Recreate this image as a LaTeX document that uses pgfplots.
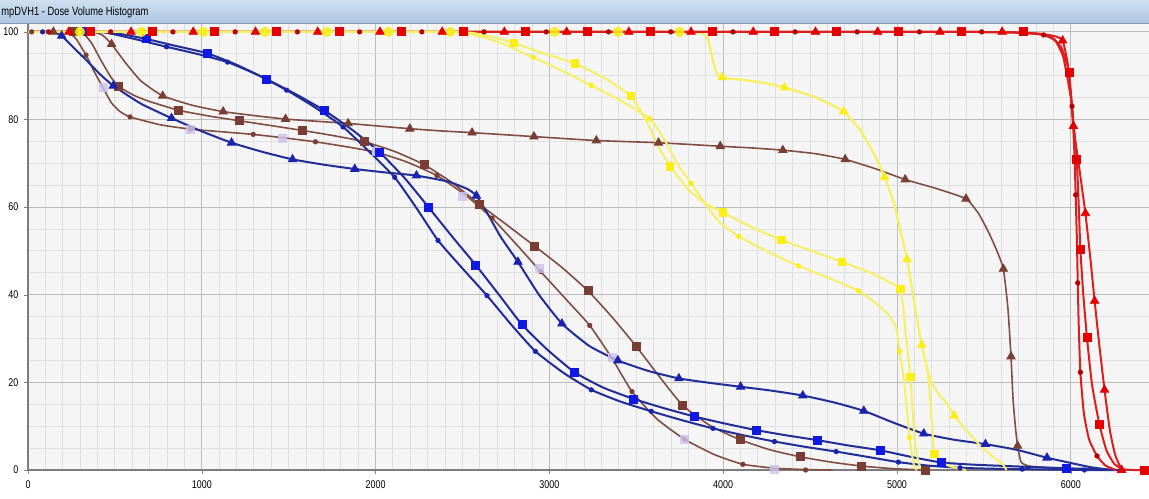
\documentclass[border=0pt]{standalone}
\usepackage{fontspec}
\setmainfont{Liberation Sans}
\usepackage{pgfplots}
\pgfplotsset{compat=1.18}
\definecolor{bgc}{RGB}{245,245,245}
\definecolor{majg}{RGB}{188,188,188}
\definecolor{ming}{RGB}{224,224,224}
\definecolor{rl}{RGB}{220,30,30}
\definecolor{rm}{RGB}{228,0,0}
\definecolor{yl}{RGB}{246,240,100}
\definecolor{ym}{RGB}{250,238,20}
\definecolor{brl}{RGB}{128,78,68}
\definecolor{brm}{RGB}{120,62,52}
\definecolor{ul}{RGB}{35,45,150}
\definecolor{ums}{RGB}{15,25,225}
\definecolor{umt}{RGB}{25,35,175}
\definecolor{lav}{RGB}{205,195,235}
\definecolor{barA}{RGB}{206,222,240}
\definecolor{barB}{RGB}{172,198,226}
\pgfplotsset{
  ln/.style={smooth, tension=0.3, no markers, line width=1pt},
  sq/.style={only marks, mark=square*, mark size=2pt},
  tr/.style={only marks, mark=triangle*, mark size=2.4pt},
  dt/.style={only marks, mark=*, mark size=1.1pt},
}
\begin{document}
\begin{tikzpicture}
\path[use as bounding box] (0,0) rectangle (574.5pt,249pt);
\shade[top color=barA, bottom color=barB] (0,237pt) rectangle (574.5pt,249pt);
\draw[draw={rgb,255:red,130;green,150;blue,175}, line width=0.5pt] (0,237pt) -- (574.5pt,237pt);
\node[anchor=west, inner sep=0pt, xscale=0.78, font=\fontsize{6}{7}\selectfont] at (0.5pt,243pt) {mpDVH1 - Dose Volume Histogram};
\begin{axis}[
  at={(14pt,14pt)}, anchor=south west,
  scale only axis, width=560.5pt, height=223pt,
  xmin=0, xmax=6450, ymin=0, ymax=101.8,
  xtick={0,1000,...,6000}, ytick={0,20,...,100},
  minor x tick num=9, minor y tick num=3,
  grid=both,
  major grid style={draw=majg, line width=0.5pt},
  minor grid style={draw=ming, line width=0.5pt},
  axis background/.style={fill=bgc},
  axis x line*=bottom, axis y line*=left,
  x axis line style={-}, y axis line style={-},
  axis line style={draw={rgb,255:red,125;green,125;blue,125}, line width=0.6pt},
  tick align=outside, major tick length=2pt, minor tick length=0pt,
  tick style={draw=gray},
  tick label style={font=\fontsize{5.6}{6.5}\selectfont, xscale=0.8},
  /pgf/number format/assume math mode=true,
  /pgf/number format/1000 sep={},
  scaled x ticks=false, scaled y ticks=false,
  clip=false,
]
% ---------- brown ----------
\addplot[ln, draw=brl, line width=0.8pt] coordinates {(0,100)(150,100)(230,99.8)(275,98.5)(334,94.7)(380,91)(431,87.3)(480,83.8)(530,81.8)(587,80.6)(760,78.8)(935,77.8)(1115,77.2)(1296,76.6)(1475,75.8)(1654,74.9)(1830,73.8)(2008,72.5)(2180,70.3)(2353,67.2)(2515,62.8)(2670,57.5)(2810,51.5)(2950,45.3)(3090,39.2)(3232,33.0)(3360,25.5)(3475,17.9)(3620,11.6)(3778,7.0)(3950,3.5)(4113,1.3)(4300,0.4)(4474,0.1)(4630,0)};
\addplot[dt, color=brm] coordinates {(21,100)(334,94.7)(587,80.6)(935,77.8)(1296,76.6)(1654,74.9)(2008,72.5)(2353,67.2)(2670,57.5)(2950,45.3)(3232,33.0)(3475,17.9)(3778,7.0)(4113,1.3)(4474,0)};
\addplot[only marks, mark=square*, mark size=2pt, color=lav, opacity=0.8] coordinates {(431,87.3)(932,77.7)(1466,75.8)(2005,72.8)(2501,62.5)(2944,46.0)(3360,25.6)(3778,7.0)(4295,0.2)};
\addplot[ln, draw=brl, line width=0.8pt] coordinates {(0,100)(261,100)(318,99.6)(365,97.5)(420,93.5)(475,89.8)(523,87.5)(610,85.5)(700,84.1)(868,82.1)(1040,80.8)(1219,79.7)(1400,78.6)(1579,77.5)(1760,76.3)(1938,74.9)(2110,72.7)(2279,69.7)(2440,65.6)(2599,60.6)(2760,55.8)(2915,51.1)(3070,46.3)(3222,40.9)(3365,34.7)(3500,28.2)(3635,21.2)(3768,14.7)(3930,10)(4098,6.9)(4270,4.6)(4445,3.0)(4620,1.8)(4796,0.9)(4980,0.3)(5162,0)};
\addplot[sq, color=brm] coordinates {(261,100)(523,87.5)(868,82.1)(1219,79.7)(1579,77.5)(1938,74.9)(2279,69.7)(2599,60.6)(2915,51.1)(3222,40.9)(3500,28.2)(3768,14.7)(4098,6.9)(4445,3.0)(4796,0.9)(5162,0)};
\addplot[ln, draw=brl, line width=0.8pt] coordinates {(0,100)(200,100)(380,99.9)(430,99.2)(481,97.2)(560,93)(650,88.8)(775,85.4)(950,83.2)(1123,81.8)(1300,80.9)(1482,80.1)(1660,79.6)(1842,79.1)(2020,78.5)(2197,77.9)(2375,77.4)(2555,77.0)(2911,76.1)(3270,75.2)(3628,74.7)(3983,73.9)(4170,73.5)(4343,73.0)(4530,72.2)(4702,70.9)(4880,68.7)(5047,66.3)(5230,64.2)(5397,61.9)(5470,58.5)(5530,54)(5575,50)(5612,45.9)(5638,37)(5656,25.9)(5668,16)(5682,9.5)(5694,5.5)(5714,1.8)(5760,0.9)(5880,0.5)(6100,0.1)(6250,0)};
\addplot[tr, color=brm] coordinates {(146,100)(481,97.2)(775,85.4)(1123,81.8)(1482,80.1)(1842,79.1)(2197,77.9)(2555,77.0)(2911,76.1)(3270,75.2)(3628,74.7)(3983,73.9)(4343,73.0)(4702,70.9)(5047,66.3)(5397,61.9)(5612,45.9)(5656,25.9)(5694,5.5)};
% ---------- blue ----------
\addplot[ln, draw=ul] coordinates {(0,100)(200,100)(400,100)(443,99.9)(550,99.4)(679,98.4)(850,96.8)(1033,95.1)(1200,92.5)(1373,89.2)(1540,85.8)(1708,82.0)(1870,77.5)(2024,72.5)(2170,66.5)(2306,59.9)(2440,53.3)(2576,46.8)(2710,40)(2842,33.2)(2990,27.4)(3145,22.3)(3310,18.8)(3486,16.2)(3660,14.1)(3835,12.2)(4010,10.6)(4190,9.1)(4365,7.9)(4544,6.8)(4720,5.6)(4903,4.5)(5080,3)(5257,1.7)(5450,1.2)(5700,0.8)(5972,0.4)(6150,0.2)(6280,0)};
\addplot[sq, color=ums] coordinates {(337,100)(679,98.4)(1033,95.1)(1373,89.2)(1708,82.0)(2024,72.5)(2306,59.9)(2576,46.8)(2842,33.2)(3145,22.3)(3486,16.2)(3835,12.2)(4190,9.1)(4544,6.8)(4903,4.5)(5257,1.7)(5972,0.4)};
\addplot[ln, draw=ul] coordinates {(0,100)(200,100)(400,100)(443,99.9)(600,98.5)(797,96.6)(970,95)(1148,93.1)(1320,90.2)(1488,86.7)(1650,82.8)(1813,78.3)(1960,72.8)(2110,66.8)(2235,59.8)(2359,52.4)(2500,46)(2641,39.8)(2780,33.2)(2919,27.1)(3080,22.2)(3241,18.3)(3410,15.6)(3586,13.4)(3760,11.4)(3941,9.5)(4120,7.9)(4295,6.5)(4470,5.3)(4650,4.2)(4830,3.0)(5008,1.8)(5180,1.0)(5363,0.5)(5540,0.3)(5720,0.2)(5900,0.1)(6078,0)(6280,0)};
\addplot[dt, color=umt] coordinates {(84,100)(797,96.6)(1148,93.1)(1488,86.7)(1813,78.3)(2110,66.8)(2359,52.4)(2641,39.8)(2919,27.1)(3241,18.3)(3586,13.4)(3941,9.5)(4295,6.5)(4650,4.2)(5008,1.8)(5363,0.5)(5720,0.2)(6078,0)};
\addplot[ln, draw=ul] coordinates {(0,100)(100,100)(150,99.9)(194,99.1)(260,96.5)(337,93.5)(410,90.5)(491,87.7)(650,83.6)(826,80.3)(1000,77.3)(1171,74.7)(1350,72.6)(1522,70.9)(1700,69.7)(1880,68.7)(2060,67.9)(2235,67.2)(2420,65.8)(2530,64.1)(2580,62.6)(2640,58.8)(2720,53.2)(2819,47.5)(2940,40)(3072,33.4)(3230,28.3)(3394,25.0)(3570,22.6)(3745,20.9)(3920,19.9)(4100,19.0)(4280,18.1)(4458,17.0)(4640,15.4)(4809,13.5)(4980,10.8)(5154,8.3)(5330,6.9)(5509,5.9)(5690,4.6)(5863,2.8)(6000,1.6)(6120,0.6)(6240,0)};
\addplot[tr, color=umt] coordinates {(194,99.1)(491,87.7)(826,80.3)(1171,74.7)(1522,70.9)(1880,68.7)(2235,67.2)(2580,62.6)(2819,47.5)(3072,33.4)(3394,25.0)(3745,20.9)(4100,19.0)(4458,17.0)(4809,13.5)(5154,8.3)(5509,5.9)(5863,2.8)};
% ---------- yellow (under red) ----------
\addplot[ln, draw=yl] coordinates {(0,100)(1000,100)(2000,100)(3000,100)(3500,100)(3750,100)(3870,99.8)(3910,98.5)(3935,94.5)(3960,90.8)(3994,89.6)(4100,89.1)(4230,88.4)(4353,87.3)(4530,85.1)(4694,81.8)(4790,77.5)(4870,72)(4928,66.9)(4983,60.8)(5020,54.5)(5058,48.1)(5100,38)(5142,28.6)(5176,22.7)(5196,13.2)(5215,3.6)(5244,2.2)(5300,0.9)(5397,0)};
\addplot[ln, draw=yl] coordinates {(0,100)(1000,100)(2000,100)(3000,100)(3500,100)(3750,100)(3870,99.8)(3910,98.5)(3935,94.5)(3960,90.8)(3994,89.6)(4100,89.1)(4230,88.4)(4353,87.3)(4530,85.1)(4694,81.8)(4790,77.5)(4870,72)(4928,66.9)(4983,60.8)(5020,54.5)(5058,48.1)(5100,38)(5142,28.6)(5170,23.5)(5200,20)(5240,17.3)(5282,15.5)(5330,12.4)(5400,9)(5480,5.5)(5560,2.8)(5608,1.3)(5630,0)};
\addplot[tr, color=ym] coordinates {(3994,89.6)(4353,87.3)(4694,81.8)(4928,66.9)(5058,48.1)(5142,28.6)(5330,12.4)};
\addplot[sq, color=ym, mark size=1.8pt] coordinates {(5215,3.6)};
% ---------- red ----------
\addplot[ln, draw=rl] coordinates {(0,100)(1000,100)(2000,100)(3000,100)(4000,100)(5000,100)(5400,100)(5650,99.9)(5800,99.6)(5890,98.8)(5945,96.5)(5975,93)(5990,90.7)(6012,81)(6034,70.9)(6046,60)(6055,50.4)(6072,40)(6093,30.2)(6122,19.5)(6164,10.5)(6205,4.5)(6250,1.4)(6300,0.2)(6360,0)(6423,0)};
\addplot[ln, draw=rl] coordinates {(0,100)(1000,100)(2000,100)(3000,100)(4000,100)(5000,100)(5400,100)(5650,99.9)(5820,99.6)(5910,99)(5953,98)(5985,92)(6015,78.5)(6050,68.5)(6084,58.6)(6112,48.5)(6137,38.6)(6165,28.2)(6194,18.3)(6225,9)(6255,3.5)(6292,0)};
\addplot[ln, draw=rl] coordinates {(0,100)(1000,100)(2000,100)(3000,100)(4000,100)(5000,100)(5400,100)(5650,99.9)(5780,99.6)(5844,99.3)(5910,98)(5955,94.5)(5985,88.5)(6007,83)(6020,73)(6028,62.8)(6035,52.5)(6040,42.7)(6046,32.5)(6055,22.3)(6075,13)(6105,7)(6151,3.2)(6200,1)(6260,0)};
% ---------- yellow (over red) ----------
\addplot[ln, draw=yl] coordinates {(0,100)(1000,100)(2000,100)(2350,100)(2550,99.8)(2680,98.8)(2796,97.4)(2960,95.2)(3145,92.8)(3320,89.4)(3471,85.3)(3560,79.5)(3625,74)(3695,69.3)(3800,64)(3900,60.8)(3998,58.8)(4160,55.5)(4335,52.5)(4510,50)(4684,47.5)(4860,44.8)(4960,42.8)(5000,42)(5020,41.3)(5035,37.5)(5050,31)(5065,26)(5077,21.3)(5090,13.5)(5105,6)(5125,1.5)(5147,0)};
\addplot[ln, draw=yl] coordinates {(0,100)(1000,100)(2000,100)(2350,100)(2500,99.8)(2620,98.8)(2750,97)(2906,94.2)(3080,91)(3241,87.8)(3410,84.3)(3577,80.2)(3660,75.5)(3735,70)(3816,65.4)(3910,60)(3980,56.5)(4090,53.3)(4260,49.8)(4433,46.6)(4610,43.8)(4778,40.9)(4880,38)(4950,35.5)(4995,32.6)(5014,27.1)(5033,22.7)(5052,15.8)(5072,7.4)(5090,2.5)(5101,0.5)(5115,0)};
\addplot[sq, color=ym, mark size=1.8pt] coordinates {(2796,97.4)(3145,92.8)(3471,85.3)(3695,69.3)(3998,58.8)(4335,52.5)(4684,47.5)(5020,41.3)(5077,21.3)};
\addplot[dt, color=ym] coordinates {(2906,94.2)(3241,87.8)(3577,80.2)(3816,65.4)(4090,53.3)(4433,46.6)(4778,40.9)(5014,27.1)(5072,7.4)};
\addplot[only marks, mark=*, mark size=2.3pt, color=ym, opacity=0.85] coordinates {(299,100)(654,100)(1009,100)(1364,100)(1719,100)(2074,100)(2429,100)(3030,100)(3394,100)(3749,100)};
% ---------- red marks ----------
\addplot[sq, color=rm] coordinates {(357,100)(715,100)(1073,100)(1431,100)(1789,100)(2147,100)(2505,100)(2863,100)(3221,100)(3579,100)(3937,100)(4295,100)(4654,100)(5010,100)(5369,100)(5727,100)(5990,90.7)(6034,70.9)(6055,50.4)(6093,30.2)(6164,10.5)(6423,0)};
\addplot[tr, color=rm] coordinates {(235,100)(593,100)(951,100)(1309,100)(1667,100)(2025,100)(2383,100)(2741,100)(3099,100)(3457,100)(3815,100)(4173,100)(4531,100)(4889,100)(5247,100)(5605,100)(5953,98)(6015,78.5)(6084,58.6)(6137,38.6)(6194,18.3)(6292,0)};
\addplot[dt, color=rm!80!black] coordinates {(118,100)(476,100)(834,100)(1192,100)(1550,100)(1908,100)(2266,100)(2624,100)(2982,100)(3340,100)(3698,100)(4056,100)(4414,100)(4771,100)(5129,100)(5487,100)(5844,99.3)(6007,83)(6028,62.8)(6040,42.7)(6055,22.3)(6151,3.2)};
\end{axis}
\end{tikzpicture}
\end{document}
